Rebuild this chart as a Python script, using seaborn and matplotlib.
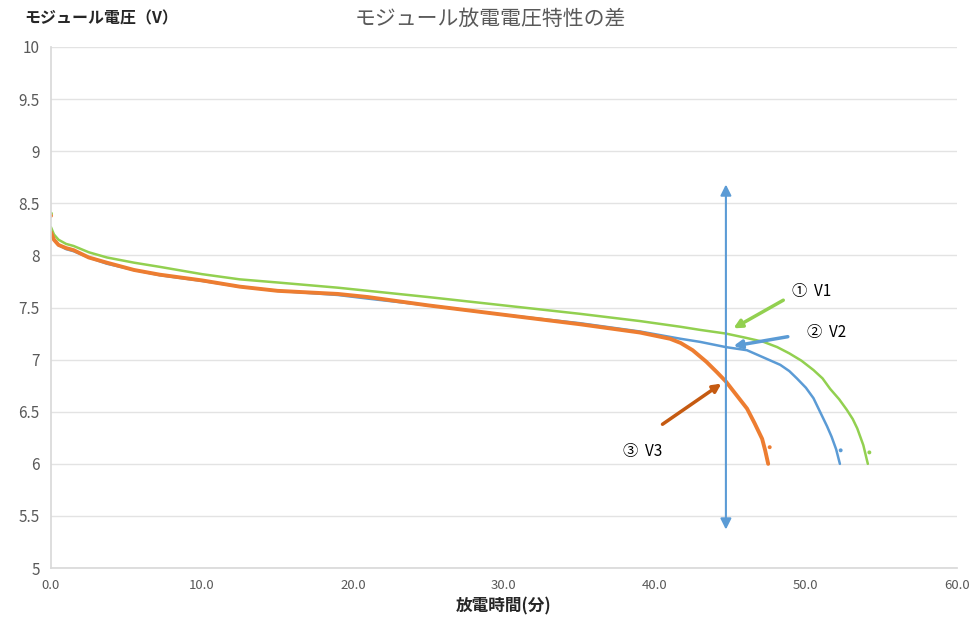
import numpy as np
import pandas as pd
import matplotlib
matplotlib.use("Agg")
import matplotlib.pyplot as plt
import seaborn as sns

# discharge curves (time in minutes, voltage in V)
v1_time = [0, 0.2, 0.5, 1, 1.5, 2.5, 3.7, 5.5, 7.2, 10, 12.5, 15, 19, 21, 25, 30, 35,
           39, 41.7, 43, 44.7, 46, 47.2, 48.1, 48.9, 49.7, 50.5, 51.1, 51.6, 52.2, 52.7,
           53.1, 53.4, 53.8, 54.1]
v1_volt = [8.27, 8.20, 8.15, 8.11, 8.09, 8.03, 7.98, 7.93, 7.89, 7.82, 7.77, 7.74, 7.69,
           7.66, 7.60, 7.52, 7.44, 7.37, 7.315, 7.285, 7.25, 7.21, 7.17, 7.12, 7.06, 6.99,
           6.90, 6.82, 6.72, 6.62, 6.52, 6.43, 6.34, 6.18, 6.00]

v2_time = [0, 0.2, 0.5, 1, 1.5, 2.5, 3.7, 5.5, 7.2, 10, 12.5, 15, 19, 21, 25, 30, 35,
           39, 41.7, 43, 44.7, 46.1, 47.2, 48.3, 48.9, 49.4, 50, 50.5, 51.1, 51.4, 51.7,
           52, 52.25]
v2_volt = [8.22, 8.15, 8.10, 8.06, 8.04, 7.98, 7.92, 7.86, 7.81, 7.755, 7.70, 7.66, 7.62,
           7.585, 7.52, 7.43, 7.35, 7.27, 7.20, 7.17, 7.12, 7.09, 7.02, 6.95, 6.89, 6.82,
           6.73, 6.63, 6.45, 6.36, 6.26, 6.14, 6.00]

v3_time = [0, 0.2, 0.5, 1, 1.5, 2.5, 3.7, 5.5, 7.2, 10, 12.5, 15, 19, 21, 25, 30, 35,
           39, 41, 41.7, 42.5, 43.4, 44.1, 44.7, 45.4, 46.1, 46.6, 47.1, 47.3, 47.5]
v3_volt = [8.22, 8.15, 8.10, 8.07, 8.05, 7.98, 7.93, 7.86, 7.815, 7.76, 7.70, 7.66, 7.63,
           7.60, 7.52, 7.43, 7.34, 7.26, 7.20, 7.16, 7.09, 6.98, 6.88, 6.79, 6.66, 6.53,
           6.39, 6.24, 6.13, 6.00]

# stray single points that show up in the source data
dot_series = ["V1", "V3", "V1", "V2", "V3"]
dot_time = [0, 0, 54.2, 52.3, 47.6]
dot_volt = [8.40, 8.38, 6.11, 6.13, 6.16]

colors = {"V1": "#92D050", "V2": "#5B9BD5", "V3": "#ED7D31"}
widths = {"V1": 1.8, "V2": 1.8, "V3": 2.8}

df = pd.concat([
    pd.DataFrame({"time": v1_time, "volt": v1_volt, "series": "V1"}),
    pd.DataFrame({"time": v2_time, "volt": v2_volt, "series": "V2"}),
    pd.DataFrame({"time": v3_time, "volt": v3_volt, "series": "V3"}),
])
dots = pd.DataFrame({"time": dot_time, "volt": dot_volt, "series": dot_series})

sns.set_theme(style="white")
plt.rcParams["font.family"] = ["Noto Sans CJK JP", "DejaVu Sans"]

fig = plt.figure(figsize=(9.71, 6.25), dpi=100)
ax = fig.add_axes([0.0525, 0.091, 0.933, 0.834])

for name in ["V1", "V2", "V3"]:
    sns.lineplot(data=df[df["series"] == name], x="time", y="volt", color=colors[name],
                 linewidth=widths[name], sort=False, ax=ax)
sns.scatterplot(data=dots, x="time", y="volt", hue="series", palette=colors, s=8,
                linewidth=0, legend=False, ax=ax)

ax.set_xlim(0, 60)
ax.set_ylim(5, 10)
ax.set_xticks(np.arange(0, 61, 10))
ax.set_xticklabels([f"{t:.1f}" for t in range(0, 61, 10)], fontsize=9.5, color="#595959")
yt = np.arange(5, 10.01, 0.5)
ax.set_yticks(yt)
ax.set_yticklabels([f"{v:g}" for v in yt], fontsize=11, color="#595959")
ax.tick_params(length=0, pad=8)
ax.yaxis.grid(True, color="#E3E3E3", linewidth=1)
for s in ["top", "right"]:
    ax.spines[s].set_visible(False)
for s in ["left", "bottom"]:
    ax.spines[s].set_color("#D9D9D9")
ax.set_xlabel("放電時間(分)", fontsize=12, fontweight="bold", color="#262626", labelpad=4)
ax.set_ylabel("")

fig.text(0.505, 0.97, "モジュール放電電圧特性の差", ha="center", va="center",
         fontsize=15, color="#595959")
fig.text(0.025, 0.97, "モジュール電圧（V）", ha="left", va="center",
         fontsize=11.5, fontweight="bold", color="#262626")

# vertical double arrow marking the comparison time
ax.annotate("", xy=(44.7, 8.68), xytext=(44.7, 5.37),
            arrowprops=dict(arrowstyle="<|-|>", color="#5B9BD5", lw=1.5,
                            mutation_scale=16, shrinkA=0, shrinkB=0))

ax.annotate("", xy=(45.2, 7.30), xytext=(48.5, 7.57),
            arrowprops=dict(arrowstyle="-|>", color="#92D050", lw=2.5,
                            mutation_scale=12, shrinkA=0, shrinkB=0))
ax.annotate("", xy=(45.2, 7.13), xytext=(48.8, 7.22),
            arrowprops=dict(arrowstyle="-|>", color="#5B9BD5", lw=2.5,
                            mutation_scale=12, shrinkA=0, shrinkB=0))
ax.annotate("", xy=(44.4, 6.77), xytext=(40.5, 6.38),
            arrowprops=dict(arrowstyle="-|>", color="#C55A11", lw=2.5,
                            mutation_scale=12, shrinkA=0, shrinkB=0))

ax.text(49.1, 7.65, "①  V1", fontsize=11, color="#000000", va="center")
ax.text(50.1, 7.26, "②  V2", fontsize=11, color="#000000", va="center")
ax.text(37.9, 6.12, "③  V3", fontsize=11, color="#000000", va="center")

fig.savefig("out.png", dpi=100)
